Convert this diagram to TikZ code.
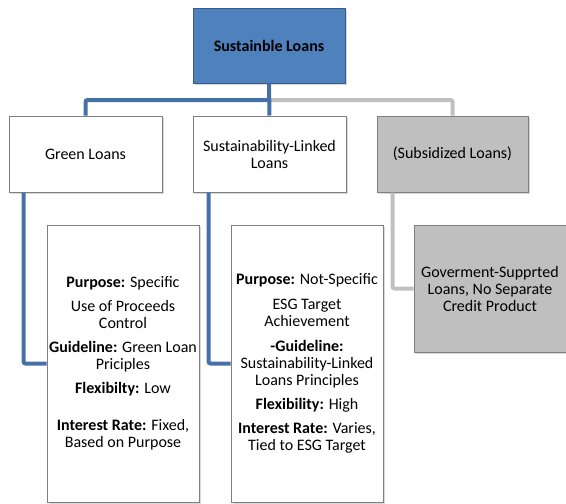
\documentclass[tikz,border=0pt]{standalone}
\usepackage{fontspec}
\setmainfont{Carlito}
\usetikzlibrary{shadows}
\definecolor{topfill}{HTML}{4F81BD}
\definecolor{topline}{HTML}{385D8A}
\definecolor{linkblue}{HTML}{4670A8}
\definecolor{linkgray}{HTML}{C0C0C0}
\definecolor{subsfill}{HTML}{BFBFBF}
\definecolor{boxline}{HTML}{7F7F7F}
\begin{document}
\begin{tikzpicture}[x=1pt, y=-1pt,
  box/.style={rectangle, draw=boxline, line width=1pt, fill=white, align=center,
    font=\fontsize{16}{17}\selectfont, inner sep=2pt,
    drop shadow={shadow xshift=1.5pt, shadow yshift=-2pt, opacity=0.3}},
  bluelink/.style={draw=linkblue, line width=4pt, rounded corners=2pt},
  graylink/.style={draw=linkgray, line width=4pt, rounded corners=2pt}]
\useasboundingbox (0,0) rectangle (566,504);

\node[box, fill=topfill, draw=topline, minimum width=152pt, minimum height=75pt] (l0) at (269,45.5) {\textbf{Sustainble Loans}};
\node[box, minimum width=153pt, minimum height=76pt] (l1) at (85.5,154) {Green Loans};
\node[box, minimum width=153pt, minimum height=76pt] (l2) at (269.5,154) {Sustainability-Linked\\ Loans};
\node[box, fill=subsfill, minimum width=151pt, minimum height=76pt] (l3) at (452.5,154) {(Subsidized Loans)};

\node[box, minimum width=152pt, minimum height=277pt] (d1) at (123,363.5) {%
  \textbf{Purpose:} Specific\\[7pt]
  Use of Proceeds\\ Control\\[7pt]
  \textbf{Guideline:} Green Loan\\ Priciples\\[7pt]
  \textbf{Flexibilty:} Low\\[20pt]
  \textbf{Interest Rate:} Fixed,\\ Based on Purpose};
\node[box, minimum width=152pt, minimum height=277pt] (d2) at (307,363.5) {%
  \textbf{Purpose:} Not-Specific\\[8pt]
  ESG Target\\ Achievement\\[8pt]
  \textbf{-Guideline:}\\ Sustainability-Linked\\ Loans Principles\\[7pt]
  \textbf{Flexibility:} High\\[7pt]
  \textbf{Interest Rate:} Varies,\\ Tied to ESG Target};
\node[box, fill=subsfill, minimum width=152pt, minimum height=127pt] (d3) at (490,288.5) {%
  Goverment-Supprted\\ Loans, No Separate\\ Credit Product};

\coordinate (hub) at (269,100);
\draw[graylink] (hub) -| (l3.north);
\draw[bluelink] (hub) -| (l1.north);
\draw[bluelink] (l0.south) -- (l2.north);

\draw[bluelink] ([xshift=15pt]l1.south west) |- (d1.west);
\draw[bluelink] ([xshift=16pt]l2.south west) |- (d2.west);
\draw[graylink] ([xshift=16pt]l3.south west) |- (d3.west);

\end{tikzpicture}
\end{document}
